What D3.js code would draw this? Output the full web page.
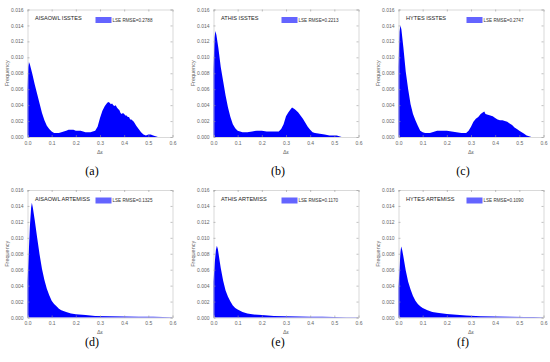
<!DOCTYPE html>
<html>
<head>
<meta charset="utf-8">
<script src="https://cdn.jsdelivr.net/npm/d3@7"></script>
<style>
  body { margin: 0; background: #fff; }
  svg { display: block; }
</style>
</head>
<body>
<svg id="chart" width="550" height="362"></svg>
<script>
var xTicks = [0, 0.1, 0.2, 0.3, 0.4, 0.5, 0.6];
var yTicks = [0, 0.002, 0.004, 0.006, 0.008, 0.010, 0.012, 0.014, 0.016];
var titles = ["AISAOWL ISSTES", "ATHIS ISSTES", "HYTES ISSTES",
              "AISAOWL ARTEMISS", "ATHIS ARTEMISS", "HYTES ARTEMISS"];
var rmseLabels = ["LSE RMSE=0.2788", "LSE RMSE=0.2213", "LSE RMSE=0.2747",
                  "LSE RMSE=0.1325", "LSE RMSE=0.1170", "LSE RMSE=0.1090"];
var panelLetters = ["(a)", "(b)", "(c)", "(d)", "(e)", "(f)"];

// [delta e, frequency]
var aisaowlIsstes = [[0,0.0060],[0.003,0.0088],[0.006,0.0094],[0.01,0.0091],[0.015,0.0085],[0.02,0.0079],[0.03,0.0066],[0.04,0.0054],[0.05,0.0042],[0.06,0.0030],[0.07,0.0021],[0.08,0.0014],[0.09,0.0010],[0.1,0.0007],[0.11,0.0005],[0.12,0.0005],[0.13,0.0005],[0.14,0.0006],[0.15,0.0007],[0.16,0.0008],[0.17,0.0009],[0.18,0.0009],[0.19,0.0009],[0.2,0.0008],[0.21,0.0008],[0.22,0.0008],[0.23,0.0007],[0.24,0.0006],[0.25,0.0006],[0.26,0.0006],[0.27,0.0007],[0.28,0.0008],[0.29,0.0013],[0.30,0.0024],[0.31,0.0033],[0.32,0.0039],[0.33,0.0043],[0.335,0.0044],[0.34,0.0043],[0.345,0.0041],[0.35,0.0042],[0.355,0.0040],[0.36,0.0039],[0.365,0.0040],[0.37,0.0037],[0.375,0.0035],[0.38,0.0034],[0.385,0.0030],[0.39,0.0029],[0.395,0.0030],[0.40,0.0029],[0.405,0.0027],[0.41,0.0027],[0.415,0.0025],[0.42,0.0025],[0.425,0.0022],[0.43,0.0022],[0.44,0.0019],[0.45,0.0014],[0.46,0.0010],[0.47,0.0006],[0.48,0.0003],[0.49,0.0002],[0.50,0.0003],[0.51,0.0003],[0.52,0.0002],[0.53,0.0001],[0.54,0]];
var athisIsstes = [[0,0.0085],[0.004,0.0125],[0.008,0.0133],[0.012,0.0128],[0.02,0.0112],[0.03,0.0088],[0.04,0.0070],[0.05,0.0052],[0.06,0.0037],[0.07,0.0025],[0.08,0.0016],[0.09,0.0011],[0.1,0.0008],[0.11,0.0007],[0.12,0.0006],[0.14,0.0006],[0.16,0.0007],[0.18,0.0008],[0.20,0.0008],[0.22,0.0007],[0.24,0.0007],[0.26,0.0007],[0.27,0.0007],[0.28,0.0010],[0.29,0.0016],[0.30,0.0026],[0.31,0.0031],[0.32,0.0035],[0.325,0.0037],[0.33,0.0036],[0.335,0.0035],[0.34,0.0034],[0.35,0.0031],[0.36,0.0027],[0.37,0.0023],[0.38,0.0018],[0.39,0.0013],[0.40,0.0009],[0.41,0.0006],[0.42,0.0005],[0.44,0.0004],[0.46,0.0003],[0.48,0.0002],[0.50,0.0002],[0.51,0.0002],[0.52,0.0001],[0.53,0]];
var hytesIsstes = [[0,0.0088],[0.004,0.0132],[0.008,0.0140],[0.012,0.0135],[0.02,0.0113],[0.03,0.0082],[0.04,0.0060],[0.05,0.0041],[0.06,0.0029],[0.07,0.0021],[0.08,0.0014],[0.09,0.0008],[0.1,0.0006],[0.11,0.0005],[0.12,0.0005],[0.13,0.0005],[0.14,0.0006],[0.15,0.0007],[0.16,0.0008],[0.18,0.0008],[0.20,0.0008],[0.22,0.0007],[0.24,0.0006],[0.26,0.0005],[0.28,0.0005],[0.29,0.0008],[0.30,0.0013],[0.31,0.0019],[0.32,0.0023],[0.33,0.0025],[0.34,0.0029],[0.35,0.0031],[0.355,0.0032],[0.36,0.0029],[0.37,0.0028],[0.38,0.0027],[0.39,0.0026],[0.40,0.0024],[0.41,0.0022],[0.42,0.0021],[0.43,0.0021],[0.44,0.0020],[0.45,0.0019],[0.46,0.0017],[0.47,0.0015],[0.48,0.0012],[0.49,0.0010],[0.50,0.0008],[0.51,0.0006],[0.52,0.0004],[0.53,0.0002],[0.54,0.0001],[0.55,0]];
var aisaowlArtemiss = [[0,0.0045],[0.005,0.0080],[0.01,0.0115],[0.015,0.0138],[0.018,0.0144],[0.022,0.0138],[0.03,0.0122],[0.04,0.0100],[0.05,0.0079],[0.06,0.0061],[0.07,0.0047],[0.08,0.0036],[0.09,0.0028],[0.1,0.0021],[0.11,0.0017],[0.12,0.0014],[0.13,0.0011],[0.14,0.0009],[0.16,0.0007],[0.18,0.0005],[0.20,0.0004],[0.24,0.0003],[0.28,0.0002],[0.34,0.00017],[0.40,0.00012],[0.46,0.0001],[0.52,0.00008],[0.56,0.00006],[0.6,0.00004]];
var athisArtemiss = [[0,0.0045],[0.005,0.0068],[0.01,0.0085],[0.014,0.0090],[0.018,0.0086],[0.025,0.0072],[0.03,0.0062],[0.04,0.0046],[0.05,0.0034],[0.06,0.0026],[0.07,0.0020],[0.08,0.0015],[0.09,0.0012],[0.1,0.0010],[0.12,0.0007],[0.14,0.0005],[0.16,0.0004],[0.2,0.0003],[0.25,0.0002],[0.3,0.00015],[0.35,0.00012],[0.4,0.0001],[0.45,0.00008],[0.5,0.00006],[0.55,0.00004],[0.6,0.00002]];
var hytesArtemiss = [[0,0.0038],[0.005,0.0065],[0.008,0.0082],[0.011,0.0089],[0.015,0.0085],[0.02,0.0077],[0.03,0.0059],[0.04,0.0045],[0.05,0.0035],[0.06,0.0027],[0.07,0.0021],[0.08,0.0017],[0.09,0.0014],[0.1,0.0012],[0.12,0.0009],[0.14,0.0007],[0.16,0.0006],[0.2,0.00045],[0.24,0.00033],[0.28,0.00025],[0.34,0.00017],[0.4,0.00013],[0.46,0.0001],[0.52,0.00007],[0.56,0.00005],[0.6,0.00003]];

var series = [aisaowlIsstes, athisIsstes, hytesIsstes, aisaowlArtemiss, athisArtemiss, hytesArtemiss];

var lefts = [27.5, 213.5, 398.5];
var tops = [9.5, 190];
var w = 145, h = 127.5;

var svg = d3.select("#chart");
var font = "'Liberation Sans', Arial, sans-serif";

series.forEach(function(data, i) {
  var col = i % 3, row = Math.floor(i / 3);
  var g = svg.append("g")
    .attr("transform", "translate(" + lefts[col] + "," + tops[row] + ")");

  var x = d3.scaleLinear().domain([0, 0.6]).range([0, w]);
  var y = d3.scaleLinear().domain([0, 0.016]).range([h, 0]);

  var area = d3.area()
    .x(function(d) { return x(d[0]); })
    .y0(y(0))
    .y1(function(d) { return y(d[1]); });

  g.append("path")
    .datum(data)
    .attr("d", area)
    .attr("fill", "#0000ff");

  // box with inward ticks on all four sides
  var axes = [
    d3.axisBottom(x).tickValues(xTicks).tickSize(-2).tickPadding(4).tickFormat(d3.format(".1f")),
    d3.axisTop(x).tickValues(xTicks).tickSize(-2).tickFormat(""),
    d3.axisLeft(y).tickValues(yTicks).tickSize(-2).tickPadding(4).tickFormat(d3.format(".3f")),
    d3.axisRight(y).tickValues(yTicks).tickSize(-2).tickFormat("")
  ];
  var shifts = ["translate(0," + h + ")", null, null, "translate(" + w + ",0)"];
  axes.forEach(function(ax, k) {
    var a = g.append("g").attr("transform", shifts[k]).call(ax);
    a.select(".domain").attr("stroke", "#c8c8c8").attr("stroke-width", 0.7);
    a.selectAll(".tick line").attr("stroke", "#999").attr("stroke-width", 0.6);
    a.selectAll(".tick text")
      .attr("fill", "#666")
      .style("font-family", font)
      .style("font-size", "5px");
  });

  g.append("text")
    .attr("x", w / 2)
    .attr("y", h + 16.5)
    .attr("text-anchor", "middle")
    .attr("fill", "#666")
    .style("font-family", font)
    .style("font-size", "5.5px")
    .text("\u0394\u03b5");

  g.append("text")
    .attr("transform", "translate(-19," + (h / 2) + ") rotate(-90)")
    .attr("text-anchor", "middle")
    .attr("fill", "#666")
    .style("font-family", font)
    .style("font-size", "5.5px")
    .text("Frequency");

  g.append("text")
    .attr("x", 7.5)
    .attr("y", 10.5)
    .attr("fill", "#222")
    .style("font-family", font)
    .style("font-size", "5.6px")
    .text(titles[i]);

  g.append("rect")
    .attr("x", 68)
    .attr("y", 7.5)
    .attr("width", 16)
    .attr("height", 6)
    .attr("fill", "#6464ff");

  g.append("text")
    .attr("x", 85)
    .attr("y", 12.3)
    .attr("fill", "#333")
    .style("font-family", font)
    .style("font-size", "4.6px")
    .text(rmseLabels[i]);

  svg.append("text")
    .attr("x", lefts[col] + w / 2 - 8)
    .attr("y", row === 0 ? 175 : 346)
    .attr("text-anchor", "middle")
    .attr("fill", "#000")
    .style("font-family", "'Liberation Serif', 'Times New Roman', serif")
    .style("font-size", "12px")
    .text(panelLetters[i]);
});
</script>
</body>
</html>
